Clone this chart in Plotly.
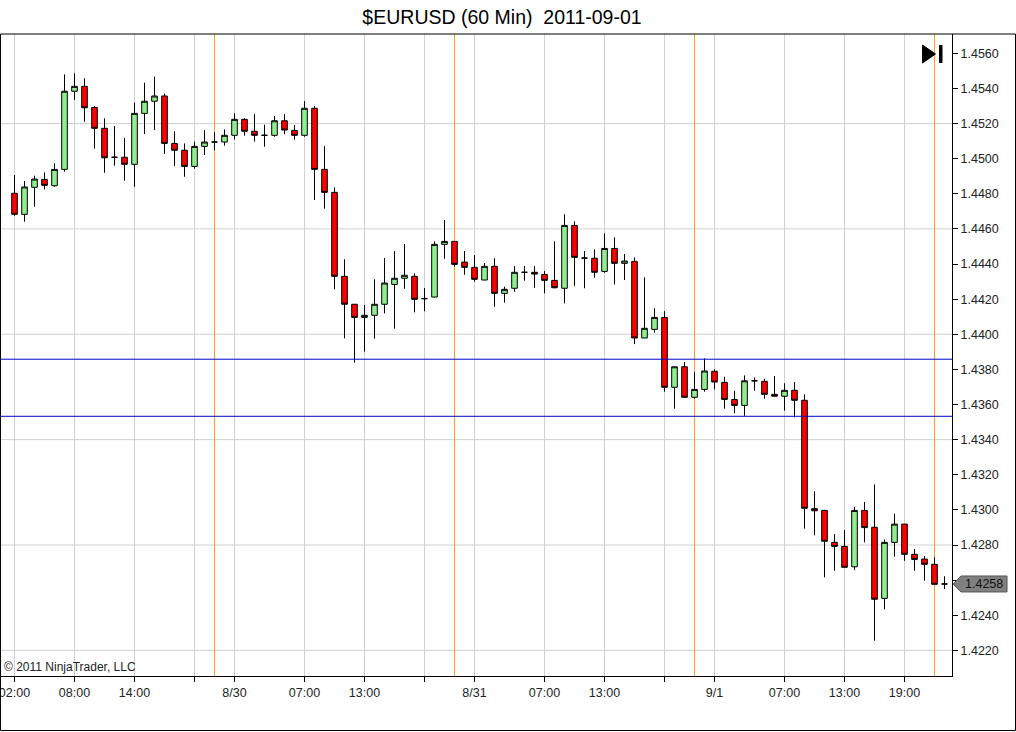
import plotly.graph_objects as go
import pandas as pd

# ---------------- data ----------------
times = pd.date_range('2011-08-29 02:00', periods=94, freq='h')

open_ = [1.44803, 1.44683, 1.44837, 1.44882, 1.44846, 1.44939, 1.45384, 1.45412, 1.45292, 1.45173,
         1.45008, 1.45008, 1.44968, 1.45258, 1.45327, 1.45357, 1.45087, 1.45048, 1.44956, 1.45070,
         1.45095, 1.45095, 1.45133, 1.45224, 1.45156, 1.45133, 1.45133, 1.45216, 1.45161, 1.45133,
         1.45287, 1.44939, 1.44808, 1.44330, 1.44171, 1.44096, 1.44108, 1.44171, 1.44284, 1.44319,
         1.44330, 1.44203, 1.44212, 1.44512, 1.44529, 1.44411, 1.44381, 1.44309, 1.44387, 1.44233,
         1.44262, 1.44353, 1.44353, 1.44341, 1.44307, 1.44262, 1.44620, 1.44434, 1.44433, 1.44358,
         1.44489, 1.44404, 1.44415, 1.43979, 1.44028, 1.44096, 1.43698, 1.43815, 1.43641, 1.43686,
         1.43789, 1.43726, 1.43629, 1.43595, 1.43735, 1.43732, 1.43658, 1.43647, 1.43681, 1.43624,
         1.43007, 1.42997, 1.42815, 1.42792, 1.42676, 1.42997, 1.42901, 1.42496, 1.42815, 1.42919,
         1.42747, 1.42720, 1.42690, 1.42578]
high = [1.44907, 1.44873, 1.44903, 1.44922, 1.44974, 1.45480, 1.45486, 1.45458, 1.45300, 1.45230,
        1.45186, 1.45118, 1.45319, 1.45433, 1.45467, 1.45370, 1.45157, 1.45087, 1.45097, 1.45163,
        1.45152, 1.45167, 1.45258, 1.45230, 1.45254, 1.45193, 1.45243, 1.45254, 1.45192, 1.45328,
        1.45300, 1.45072, 1.44837, 1.44427, 1.44171, 1.44167, 1.44313, 1.44434, 1.44474, 1.44514,
        1.44347, 1.44263, 1.44529, 1.44651, 1.44529, 1.44474, 1.44451, 1.44406, 1.44433, 1.44271,
        1.44389, 1.44389, 1.44389, 1.44360, 1.44529, 1.44683, 1.44643, 1.44474, 1.44484, 1.44575,
        1.44552, 1.44457, 1.44438, 1.44324, 1.44148, 1.44132, 1.43815, 1.43842, 1.43785, 1.43863,
        1.43800, 1.43758, 1.43678, 1.43766, 1.43755, 1.43747, 1.43762, 1.43721, 1.43728, 1.43658,
        1.43107, 1.43000, 1.42862, 1.42885, 1.43018, 1.43045, 1.43145, 1.42832, 1.42978, 1.42919,
        1.42777, 1.42737, 1.42730, 1.42622]
low = [1.44675, 1.44641, 1.44726, 1.44825, 1.44840, 1.44926, 1.45334, 1.45210, 1.45057, 1.44920,
       1.44960, 1.44874, 1.44840, 1.45140, 1.45163, 1.45027, 1.44958, 1.44897, 1.44943, 1.45021,
       1.45048, 1.45074, 1.45110, 1.45131, 1.45097, 1.45068, 1.45125, 1.45139, 1.45108, 1.45125,
       1.44765, 1.44715, 1.44256, 1.43977, 1.43838, 1.43901, 1.43975, 1.44119, 1.44032, 1.44259,
       1.44125, 1.44131, 1.44210, 1.44430, 1.44385, 1.44339, 1.44299, 1.44309, 1.44157, 1.44180,
       1.44242, 1.44305, 1.44265, 1.44233, 1.44262, 1.44176, 1.44276, 1.44262, 1.44322, 1.44350,
       1.44284, 1.44309, 1.43944, 1.43979, 1.44009, 1.43673, 1.43576, 1.43641, 1.43633, 1.43673,
       1.43686, 1.43576, 1.43550, 1.43536, 1.43678, 1.43633, 1.43647, 1.43565, 1.43527, 1.42893,
       1.42855, 1.42616, 1.42653, 1.42673, 1.42657, 1.42815, 1.42255, 1.42434, 1.42733, 1.42710,
       1.42653, 1.42596, 1.42576, 1.42549]
close = [1.44683, 1.44839, 1.44884, 1.44848, 1.44939, 1.45384, 1.45412, 1.45290, 1.45173, 1.45005,
         1.45008, 1.44968, 1.45258, 1.45327, 1.45357, 1.45087, 1.45048, 1.44956, 1.45070, 1.45095,
         1.45095, 1.45133, 1.45224, 1.45156, 1.45133, 1.45133, 1.45216, 1.45163, 1.45133, 1.45287,
         1.44939, 1.44808, 1.44330, 1.44171, 1.44096, 1.44108, 1.44171, 1.44292, 1.44319, 1.44336,
         1.44199, 1.44203, 1.44512, 1.44529, 1.44398, 1.44381, 1.44313, 1.44387, 1.44233, 1.44256,
         1.44353, 1.44353, 1.44343, 1.44307, 1.44265, 1.44620, 1.44438, 1.44434, 1.44353, 1.44489,
         1.44404, 1.44417, 1.43979, 1.44034, 1.44096, 1.43698, 1.43815, 1.43641, 1.43686, 1.43791,
         1.43728, 1.43629, 1.43595, 1.43735, 1.43735, 1.43658, 1.43647, 1.43681, 1.43624, 1.43009,
         1.42995, 1.42821, 1.42792, 1.42673, 1.42997, 1.42899, 1.42491, 1.42815, 1.42919, 1.42747,
         1.42718, 1.42690, 1.42576, 1.42578]

tick_times = ['2011-08-29 02:00', '2011-08-29 08:00', '2011-08-29 14:00', '2011-08-29 20:00',
              '2011-08-30 00:00', '2011-08-30 07:00', '2011-08-30 13:00', '2011-08-30 19:00',
              '2011-08-31 00:00', '2011-08-31 07:00', '2011-08-31 13:00', '2011-08-31 19:00',
              '2011-09-01 00:00', '2011-09-01 07:00', '2011-09-01 13:00', '2011-09-01 19:00']
tick_labels = ['02:00', '08:00', '14:00', '', '8/30', '07:00', '13:00', '',
               '8/31', '07:00', '13:00', '', '9/1', '07:00', '13:00', '19:00']
session_breaks = ['2011-08-29 22:00', '2011-08-30 22:00', '2011-08-31 22:00', '2011-09-01 22:00']
level_lines = [1.43858, 1.43533]
price_ticks = [round(1.4220 + 0.002 * k, 4) for k in range(18)]
grid_levels = [1.4220, 1.4280, 1.4340, 1.4400, 1.4460, 1.4520]

title_text = '$EURUSD (60 Min)  2011-09-01'
copyright_text = '\u00a9 2011 NinjaTrader, LLC'

# ---------------- figure ----------------
FONT = 'Arial, "Liberation Sans", sans-serif'
last = close[-1]

fig = go.Figure()
fig.add_trace(go.Candlestick(
    x=times, open=open_, high=high, low=low, close=close,
    increasing=dict(line=dict(color='black', width=1), fillcolor='#90EE90'),
    decreasing=dict(line=dict(color='black', width=1), fillcolor='#FF0000'),
    whiskerwidth=0, showlegend=False,
))

shapes = []
for g in grid_levels:
    shapes.append(dict(type='line', xref='paper', x0=0, x1=1, yref='y', y0=g, y1=g,
                       line=dict(color='#D0D0D0', width=1), layer='below'))
for t in session_breaks:
    shapes.append(dict(type='line', xref='x', x0=t, x1=t, yref='paper', y0=0, y1=1,
                       line=dict(color='#FFA500', width=1), layer='below'))
for lv in level_lines:
    shapes.append(dict(type='line', xref='paper', x0=0, x1=1, yref='y', y0=lv, y1=lv,
                       line=dict(color='#0000CC', width=1), layer='above'))
# outer frame
shapes.append(dict(type='rect', xref='paper', yref='paper', x0=0.0005, x1=1015.5 / 952,
                   y0=(676 - 730.5) / 642, y1=1.0,
                   line=dict(color='black', width=1), fillcolor='rgba(0,0,0,0)', layer='above'))
# "go to last bar" icon
shapes.append(dict(type='path', xref='paper', yref='paper',
                   path='M %f %f L %f %f L %f %f Z' % (922.5 / 952, (676 - 45) / 642,
                                                      935.5 / 952, (676 - 54) / 642,
                                                      922.5 / 952, (676 - 63) / 642),
                   fillcolor='black', line=dict(color='black', width=1), layer='above'))
shapes.append(dict(type='rect', xref='paper', yref='paper', x0=939 / 952, x1=942.5 / 952,
                   y0=(676 - 63) / 642, y1=(676 - 45) / 642,
                   fillcolor='black', line=dict(color='black', width=0), layer='above'))
# last price marker
shapes.append(dict(type='path', xref='paper', yref='y', xsizemode='pixel', ysizemode='pixel',
                   xanchor=1, yanchor=last,
                   path='M 1 0 L 9 8 L 55 8 L 55 -8 L 9 -8 Z',
                   fillcolor='#808080', line=dict(color='#555555', width=1), layer='above'))

annotations = [
    dict(text=copyright_text, xref='paper', yref='paper', x=0, y=(676 - 667) / 642,
         xanchor='left', yanchor='middle', xshift=2, showarrow=False,
         font=dict(family=FONT, size=12, color='#222222')),
    dict(text='%.4f' % last, xref='paper', yref='y', x=1, y=last, xanchor='left',
         yanchor='middle', xshift=11, showarrow=False,
         font=dict(family=FONT, size=12.5, color='#111111')),
]

price_ticktext = ['' if abs(v - last) < 0.0006 else '%.4f' % v for v in price_ticks]

fig.update_layout(
    width=1016, height=732,
    margin=dict(l=0, r=64, t=34, b=56, pad=0),
    paper_bgcolor='white', plot_bgcolor='white',
    font=dict(family=FONT, size=12.5, color='#222222'),
    title=dict(text=title_text, x=502 / 1016, xref='container', xanchor='center',
               y=1 - 17 / 732, yref='container', yanchor='middle',
               font=dict(family=FONT, size=19.5, color='black')),
    boxgap=0.2,
    shapes=shapes, annotations=annotations,
    xaxis=dict(type='date', range=['2011-08-29 00:33', '2011-09-01 23:45'],
               tickvals=tick_times, ticktext=tick_labels,
               showgrid=True, gridcolor='#D0D0D0', gridwidth=1,
               ticks='outside', ticklen=5, tickcolor='black',
               showline=True, linecolor='black', linewidth=1,
               zeroline=False, rangeslider=dict(visible=False),
               ticklabeloverflow='allow',
               tickfont=dict(family=FONT, size=12.5, color='#222222')),
    yaxis=dict(side='right', range=[1.42054, 1.45710],
               tickvals=price_ticks, ticktext=price_ticktext,
               showgrid=False, ticks='outside', ticklen=5, tickcolor='black',
               showline=True, linecolor='black', linewidth=1, zeroline=False,
               tickfont=dict(family=FONT, size=12.5, color='#222222')),
    hovermode=False,
)

fig.write_html('out.html', config={'displayModeBar': False},
               post_script="document.body.style.margin='0';document.body.style.overflow='hidden';")
